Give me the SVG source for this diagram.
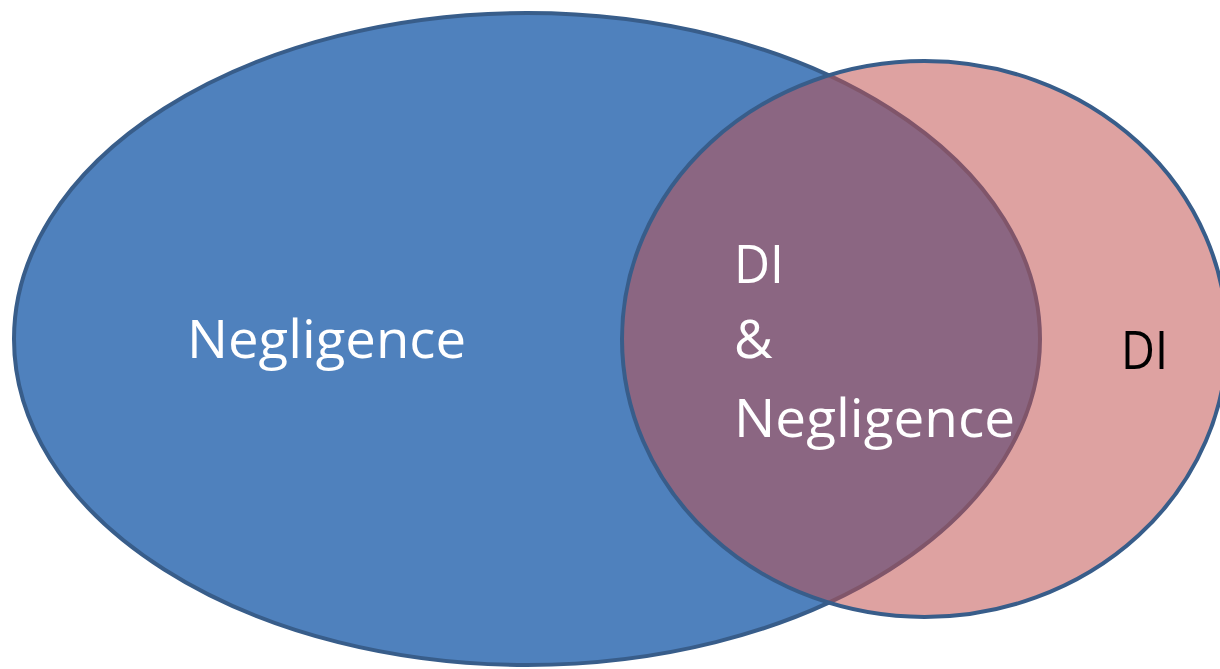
<svg xmlns="http://www.w3.org/2000/svg" width="1220" height="669" viewBox="0 0 1220 669">
<style>
.t{font-family:"Open Sans","Liberation Sans",sans-serif;font-size:53px}
.w{fill:#FFFFFF}
.k{fill:#000000}
</style>
<rect width="1220" height="669" fill="#FFFFFF"/>
<g id="negligence">
<ellipse cx="527" cy="339" rx="513" ry="326" fill="#4F81BD" stroke="#385D8A" stroke-width="4"/>
<text class="t w" x="187" y="358" textLength="279" lengthAdjust="spacingAndGlyphs">Negligence</text>
</g>
<g id="di">
<ellipse cx="924.5" cy="339" rx="302.5" ry="278" fill="#C0504D" fill-opacity="0.53" stroke="#385D8A" stroke-width="4"/>
<text class="t k" x="1121" y="369" textLength="47" lengthAdjust="spacingAndGlyphs">DI</text>
</g>
<g id="overlap">
<text class="t w" x="734" y="283" textLength="50" lengthAdjust="spacingAndGlyphs">DI</text>
<text class="t w" x="734" y="358">&amp;</text>
<text class="t w" x="734" y="437" textLength="281" lengthAdjust="spacingAndGlyphs">Negligence</text>
</g>
<g id="connectors"/>
</svg>
